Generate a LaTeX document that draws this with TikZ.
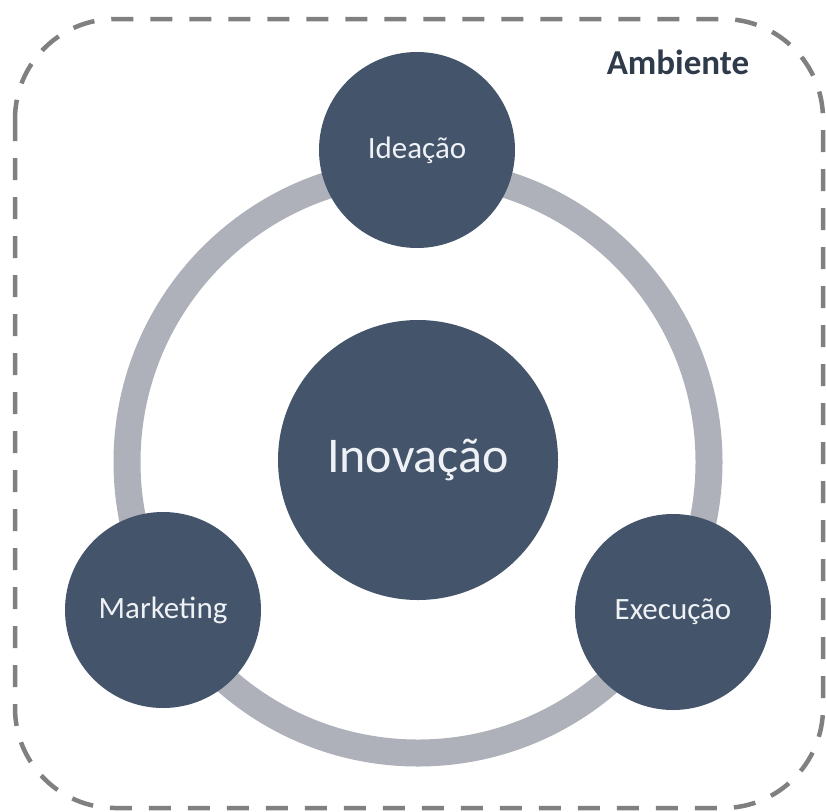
\documentclass[tikz,border=0pt]{standalone}
\usepackage{fontspec}
\setmainfont{Carlito}
\usetikzlibrary{positioning}
\definecolor{slate}{HTML}{44546A}
\definecolor{ringgray}{HTML}{AEB1B9}
\definecolor{dashgray}{HTML}{808080}
\definecolor{labelwhite}{HTML}{EEF1F5}
\definecolor{titledark}{HTML}{2F3A4A}

\begin{document}
\begin{tikzpicture}[x=1pt,y=-1pt,
    phase/.style={circle,fill=slate,text=labelwhite,inner sep=0pt,minimum size=196pt,font=\fontsize{31}{36}\selectfont},
    core/.style={circle,fill=slate,text=labelwhite,inner sep=0pt,minimum size=280pt,font=\fontsize{50}{58}\selectfont},
    cycle/.style={draw=ringgray,line width=27pt},
    frame/.style={draw=dashgray,line width=4.5pt,dash pattern=on 22pt off 17pt,rounded corners=100pt}]
    \useasboundingbox (0,0) rectangle (826,811);
    \draw[frame] (15,19) rectangle (823,808);
    \node[font=\fontsize{35}{42}\selectfont\bfseries,text=titledark] (amb) at (678,62) {Ambiente};
    \coordinate (mid) at (418,462);
    \draw[cycle] (mid) circle (291);
    \node[core] (inov) at (418,460) {Inovação};
    \node[phase] (idea) at (417,150) {Ideação};
    \node[phase] (mkt) at (163,610) {Marketing};
    \node[phase] (exec) at (673,612) {Execução};
  \end{tikzpicture}
\end{document}
